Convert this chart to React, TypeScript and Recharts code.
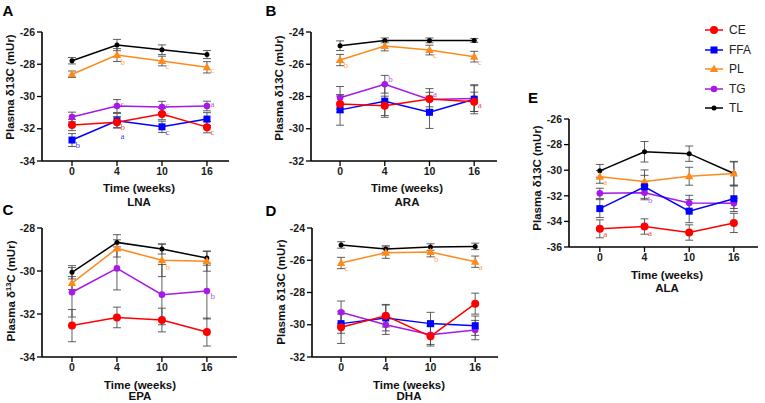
import { ErrorBar, Line, LineChart, XAxis, YAxis } from 'recharts';

const weeks = ['0', '4', '10', '16'];

// LNA
const lnaMeans = {
  CE: [-31.77, -31.59, -31.09, -31.9],
  FFA: [-32.7, -31.5, -31.88, -31.4],
  PL: [-28.62, -27.43, -27.8, -28.19],
  TG: [-31.27, -30.59, -30.65, -30.59],
  TL: [-27.78, -26.81, -27.1, -27.4],
};
const lnaErrors = {
  CE: [0.35, 0.35, 0.35, 0.35],
  FFA: [0.4, 0.45, 0.35, 0.4],
  PL: [0.2, 0.4, 0.3, 0.35],
  TG: [0.3, 0.4, 0.35, 0.3],
  TL: [0.2, 0.35, 0.3, 0.25],
};
const lnaLetters = {
  CE: ['', 'b', 'c', 'c'],
  FFA: ['b', 'a', 'c', ''],
  PL: ['', 'b', 'c', 'c'],
  TG: ['', 'c', 'c', 'a'],
};

// ARA
const araMeans = {
  CE: [-28.47, -28.58, -28.16, -28.33],
  FFA: [-28.83, -28.29, -28.98, -28.17],
  PL: [-25.74, -24.87, -25.12, -25.53],
  TG: [-28.08, -27.24, -28.19, -28.13],
  TL: [-24.85, -24.52, -24.52, -24.52],
};
const araErrors = {
  CE: [0.5, 0.6, 0.65, 0.6],
  FFA: [0.95, 1.0, 1.0, 0.9],
  PL: [0.35, 0.3, 0.3, 0.33],
  TG: [0.7, 0.55, 0.45, 0.8],
  TL: [0.3, 0.15, 0.15, 0.12],
};
const araLetters = {
  CE: ['', '', '', 'a'],
  PL: ['b', '', 'c', 'c'],
  TG: ['', 'b', 'a', ''],
};

// EPA
const epaMeans = {
  CE: [-32.54, -32.16, -32.28, -32.84],
  PL: [-30.56, -28.95, -29.5, -29.55],
  TG: [-30.99, -29.88, -31.1, -30.93],
  TL: [-30.06, -28.67, -28.98, -29.4],
};
const epaErrors = {
  CE: [0.75, 0.48, 0.55, 0.65],
  PL: [0.3, 0.4, 0.76, 0.46],
  TG: [1.15, 1.0, 1.4, 1.3],
  TL: [0.31, 0.36, 0.23, 0.33],
};
const epaLetters = {
  PL: ['', '', 'b', ''],
  TG: ['', '', '', 'b'],
};

// DHA
const dhaMeans = {
  CE: [-30.16, -29.44, -30.72, -28.69],
  FFA: [-29.93, -29.58, -29.93, -30.06],
  PL: [-26.17, -25.53, -25.49, -26.09],
  TG: [-29.23, -30.0, -30.62, -30.33],
  TL: [-25.05, -25.3, -25.18, -25.14],
};
const dhaErrors = {
  CE: [1.0, 0.7, 0.6, 0.65],
  FFA: [0.6, 0.8, 0.7, 0.6],
  PL: [0.35, 0.35, 0.3, 0.35],
  TG: [0.7, 0.6, 0.6, 0.6],
  TL: [0.2, 0.2, 0.2, 0.2],
};
const dhaLetters = {
  PL: ['c', '', 'b', 'a'],
};

// ALA
const alaMeans = {
  CE: [-34.58, -34.4, -34.87, -34.12],
  FFA: [-33.0, -31.3, -33.2, -32.23],
  PL: [-30.52, -30.88, -30.47, -30.26],
  TG: [-31.81, -31.76, -32.56, -32.59],
  TL: [-30.05, -28.56, -28.71, -30.26],
};
const alaErrors = {
  CE: [0.7, 0.6, 0.6, 0.75],
  FFA: [0.7, 0.9, 0.9, 1.0],
  PL: [0.5, 0.9, 0.7, 0.95],
  TG: [0.4, 0.55, 0.6, 0.4],
  TL: [0.5, 0.8, 0.6, 0.9],
};
const alaLetters = {
  CE: ['a', 'a', '', ''],
  PL: ['a', '', '', ''],
  TG: ['', 'b', '', ''],
};

const legendNames = ['CE', 'FFA', 'PL', 'TG', 'TL'];
const drawOrder = ['TL', 'PL', 'TG', 'FFA', 'CE'];

const colors: Record<string, string> = {
  CE: '#ff0000',
  FFA: '#0000ff',
  PL: '#ff8a1c',
  TG: '#a818e8',
  TL: '#000000',
};

const sans = '"Liberation Sans", Arial, sans-serif';
const serif = '"Liberation Serif", "DejaVu Serif", serif';

function buildRows(means: any, errors: any, letters: any) {
  return weeks.map((_, i) => {
    const row: any = { i };
    Object.keys(means).forEach((k) => {
      row[k] = means[k][i];
      row[k + 'Err'] = errors[k][i];
      row[k + 'Lbl'] = letters[k] ? letters[k][i] : '';
    });
    return row;
  });
}

function Marker({ name, cx, cy }: { name: string; cx: number; cy: number }) {
  const c = colors[name];
  if (name === 'FFA') return <rect x={cx - 3.5} y={cy - 3.5} width={7} height={7} fill={c} />;
  if (name === 'PL')
    return <polygon points={`${cx},${cy - 4.5} ${cx + 4.2},${cy + 3} ${cx - 4.2},${cy + 3}`} fill={c} />;
  if (name === 'CE') return <circle cx={cx} cy={cy} r={4} fill={c} />;
  if (name === 'TG') return <circle cx={cx} cy={cy} r={3.3} fill={c} />;
  return <circle cx={cx} cy={cy} r={2.5} fill={c} />;
}

type PanelCfg = {
  x0: number;
  xEnd: number;
  yTop: number;
  yBottom: number;
  xDomain: [number, number];
  yDomain: [number, number];
  yTicks: number[];
  means: any;
  errors: any;
  letters: any;
  nudge?: Record<string, number[]>;
};

function Panel({ cfg }: { cfg: PanelCfg }) {
  const padL = 40;
  const padT = 10;
  const padR = 8;
  const axisH = 30;
  const w = cfg.xEnd - cfg.x0 + padL + padR;
  const h = cfg.yBottom - cfg.yTop + padT + axisH;
  const rows = buildRows(cfg.means, cfg.errors, cfg.letters);
  const names = drawOrder.filter((n) => cfg.means[n]);
  const tickStyle = { fill: '#1a1a1a', fontSize: 10.5, fontWeight: 'bold', fontFamily: sans };
  return (
    <div style={{ position: 'absolute', left: cfg.x0 - padL, top: cfg.yTop - padT }}>
      <LineChart width={w} height={h} data={rows} margin={{ top: padT, right: padR, bottom: 0, left: 0 }}>
        <XAxis
          type="number"
          dataKey="i"
          domain={cfg.xDomain}
          ticks={[0, 1, 2, 3]}
          tickFormatter={(v) => weeks[v]}
          allowDataOverflow
          height={axisH}
          axisLine={{ stroke: '#000', strokeWidth: 1.6 }}
          tickLine={{ stroke: '#000', strokeWidth: 1.3 }}
          tickSize={5}
          tick={tickStyle}
        />
        <YAxis
          type="number"
          domain={cfg.yDomain}
          ticks={cfg.yTicks}
          allowDataOverflow
          width={padL}
          axisLine={{ stroke: '#000', strokeWidth: 1.6 }}
          tickLine={{ stroke: '#000', strokeWidth: 1.3 }}
          tickSize={5}
          tick={tickStyle}
        />
        {names.map((name) => (
          <Line
            key={name}
            dataKey={name}
            stroke={colors[name]}
            strokeWidth={1.5}
            isAnimationActive={false}
            activeDot={false}
            dot={(p: any) => {
              const lbl = p.payload[name + 'Lbl'];
              const dy = cfg.nudge && cfg.nudge[name] ? cfg.nudge[name][p.index] : 5;
              return (
                <g key={`${name}-${p.index}`}>
                  <Marker name={name} cx={p.cx} cy={p.cy} />
                  {lbl ? (
                    <text
                      x={p.cx + 3.5}
                      y={p.cy + dy}
                      dominantBaseline="central"
                      fontFamily={serif}
                      fontSize={9}
                      fill={colors[name]}
                      fillOpacity={0.8}
                    >
                      {lbl}
                    </text>
                  ) : null}
                </g>
              );
            }}
          >
            <ErrorBar
              dataKey={name + 'Err'}
              direction="y"
              width={4}
              stroke="#444"
              strokeOpacity={0.85}
              strokeWidth={1}
              isAnimationActive={false}
            />
          </Line>
        ))}
      </LineChart>
    </div>
  );
}

const panels: PanelCfg[] = [
  {
    x0: 42, xEnd: 229, yTop: 32, yBottom: 161,
    xDomain: [-0.667, 3.49], yDomain: [-34, -26], yTicks: [-34, -32, -30, -28, -26],
    means: lnaMeans, errors: lnaErrors, letters: lnaLetters,
    nudge: { TG: [-2, -2, -2, -2], CE: [6, 5, 0, 5], FFA: [5, 15, 5, 5], PL: [5, 7, 5, 3] },
  },
  {
    x0: 311, xEnd: 497, yTop: 32, yBottom: 161,
    xDomain: [-0.65, 3.51], yDomain: [-32, -24], yTicks: [-32, -30, -28, -26, -24],
    means: araMeans, errors: araErrors, letters: araLetters,
    nudge: { TG: [0, -5, -6, 0], CE: [3, 3, 3, 3] },
  },
  {
    x0: 42, xEnd: 237, yTop: 228, yBottom: 357,
    xDomain: [-0.667, 3.67], yDomain: [-34, -28], yTicks: [-34, -32, -30, -28],
    means: epaMeans, errors: epaErrors, letters: epaLetters,
    nudge: { PL: [7, 7, 7, 7] },
  },
  {
    x0: 312, xEnd: 498, yTop: 228, yBottom: 357,
    xDomain: [-0.65, 3.51], yDomain: [-32, -24], yTicks: [-32, -30, -28, -26, -24],
    means: dhaMeans, errors: dhaErrors, letters: dhaLetters,
    nudge: { PL: [5, 5, 7, 5] },
  },
  {
    x0: 569, xEnd: 758, yTop: 119, yBottom: 247,
    xDomain: [-0.69, 3.54], yDomain: [-36, -26], yTicks: [-36, -34, -32, -30, -28, -26],
    means: alaMeans, errors: alaErrors, letters: alaLetters,
    nudge: { TG: [7, 7, 7, 7], CE: [5, 6, 5, 5] },
  },
];

const panelLetters = [
  { t: 'A', x: 8, y: 10 },
  { t: 'B', x: 271, y: 10 },
  { t: 'C', x: 8, y: 209 },
  { t: 'D', x: 271, y: 210 },
  { t: 'E', x: 533, y: 97 },
];

const xTitles = [
  { x: 139, y: 189, sub: 'LNA', sy: 203 },
  { x: 407, y: 189, sub: 'ARA', sy: 203 },
  { x: 140, y: 386, sub: 'EPA', sy: 397 },
  { x: 409, y: 386, sub: 'DHA', sy: 397 },
  { x: 667, y: 276, sub: 'ALA', sy: 289 },
];

const yTitles = [
  { x: 11, y: 87, sup: false },
  { x: 280, y: 88, sup: false },
  { x: 11, y: 291, sup: true },
  { x: 282, y: 292, sup: false },
  { x: 538, y: 178, sup: false },
];

const legendRows = [30, 50, 69, 89, 108];

function Centered({ x, y, children, style }: any) {
  return (
    <div
      style={{
        position: 'absolute',
        left: x,
        top: y,
        transform: 'translate(-50%, -50%)',
        whiteSpace: 'nowrap',
        fontFamily: sans,
        fontWeight: 'bold',
        lineHeight: 1,
        color: '#111',
        ...style,
      }}
    >
      {children}
    </div>
  );
}

export default function App() {
  return (
    <div
      style={{
        position: 'absolute',
        left: 0,
        top: 0,
        width: 765,
        height: 403,
        background: '#fff',
        overflow: 'hidden',
      }}
    >
      {panels.map((p, k) => (
        <Panel key={k} cfg={p} />
      ))}
      {panelLetters.map((l) => (
        <Centered key={l.t} x={l.x} y={l.y} style={{ fontSize: 15, color: '#000' }}>
          {l.t}
        </Centered>
      ))}
      {xTitles.map((t) => (
        <div key={t.sub}>
          <Centered x={t.x} y={t.y} style={{ fontSize: 11.5 }}>
            Time (weeks)
          </Centered>
          <Centered x={t.x} y={t.sy} style={{ fontSize: 11.5 }}>
            {t.sub}
          </Centered>
        </div>
      ))}
      {yTitles.map((t, k) => (
        <Centered key={k} x={t.x} y={t.y} style={{ fontSize: 11.5, transform: 'translate(-50%, -50%) rotate(-90deg)' }}>
          {t.sup ? (
            <span>
              Plasma δ<sup style={{ fontSize: 7.5 }}>13</sup>C (mUr)
            </span>
          ) : (
            'Plasma δ13C (mUr)'
          )}
        </Centered>
      ))}
      {legendNames.map((n, k) => (
        <div key={n} style={{ position: 'absolute', left: 704, top: legendRows[k] - 8, height: 16, display: 'flex', alignItems: 'center' }}>
          <svg width={20} height={16}>
            <line x1={1} y1={8} x2={19} y2={8} stroke={colors[n]} strokeWidth={1.5} />
            <Marker name={n} cx={10} cy={8} />
          </svg>
          <span style={{ marginLeft: 5, fontFamily: sans, fontSize: 12, color: '#222' }}>{n}</span>
        </div>
      ))}
    </div>
  );
}
